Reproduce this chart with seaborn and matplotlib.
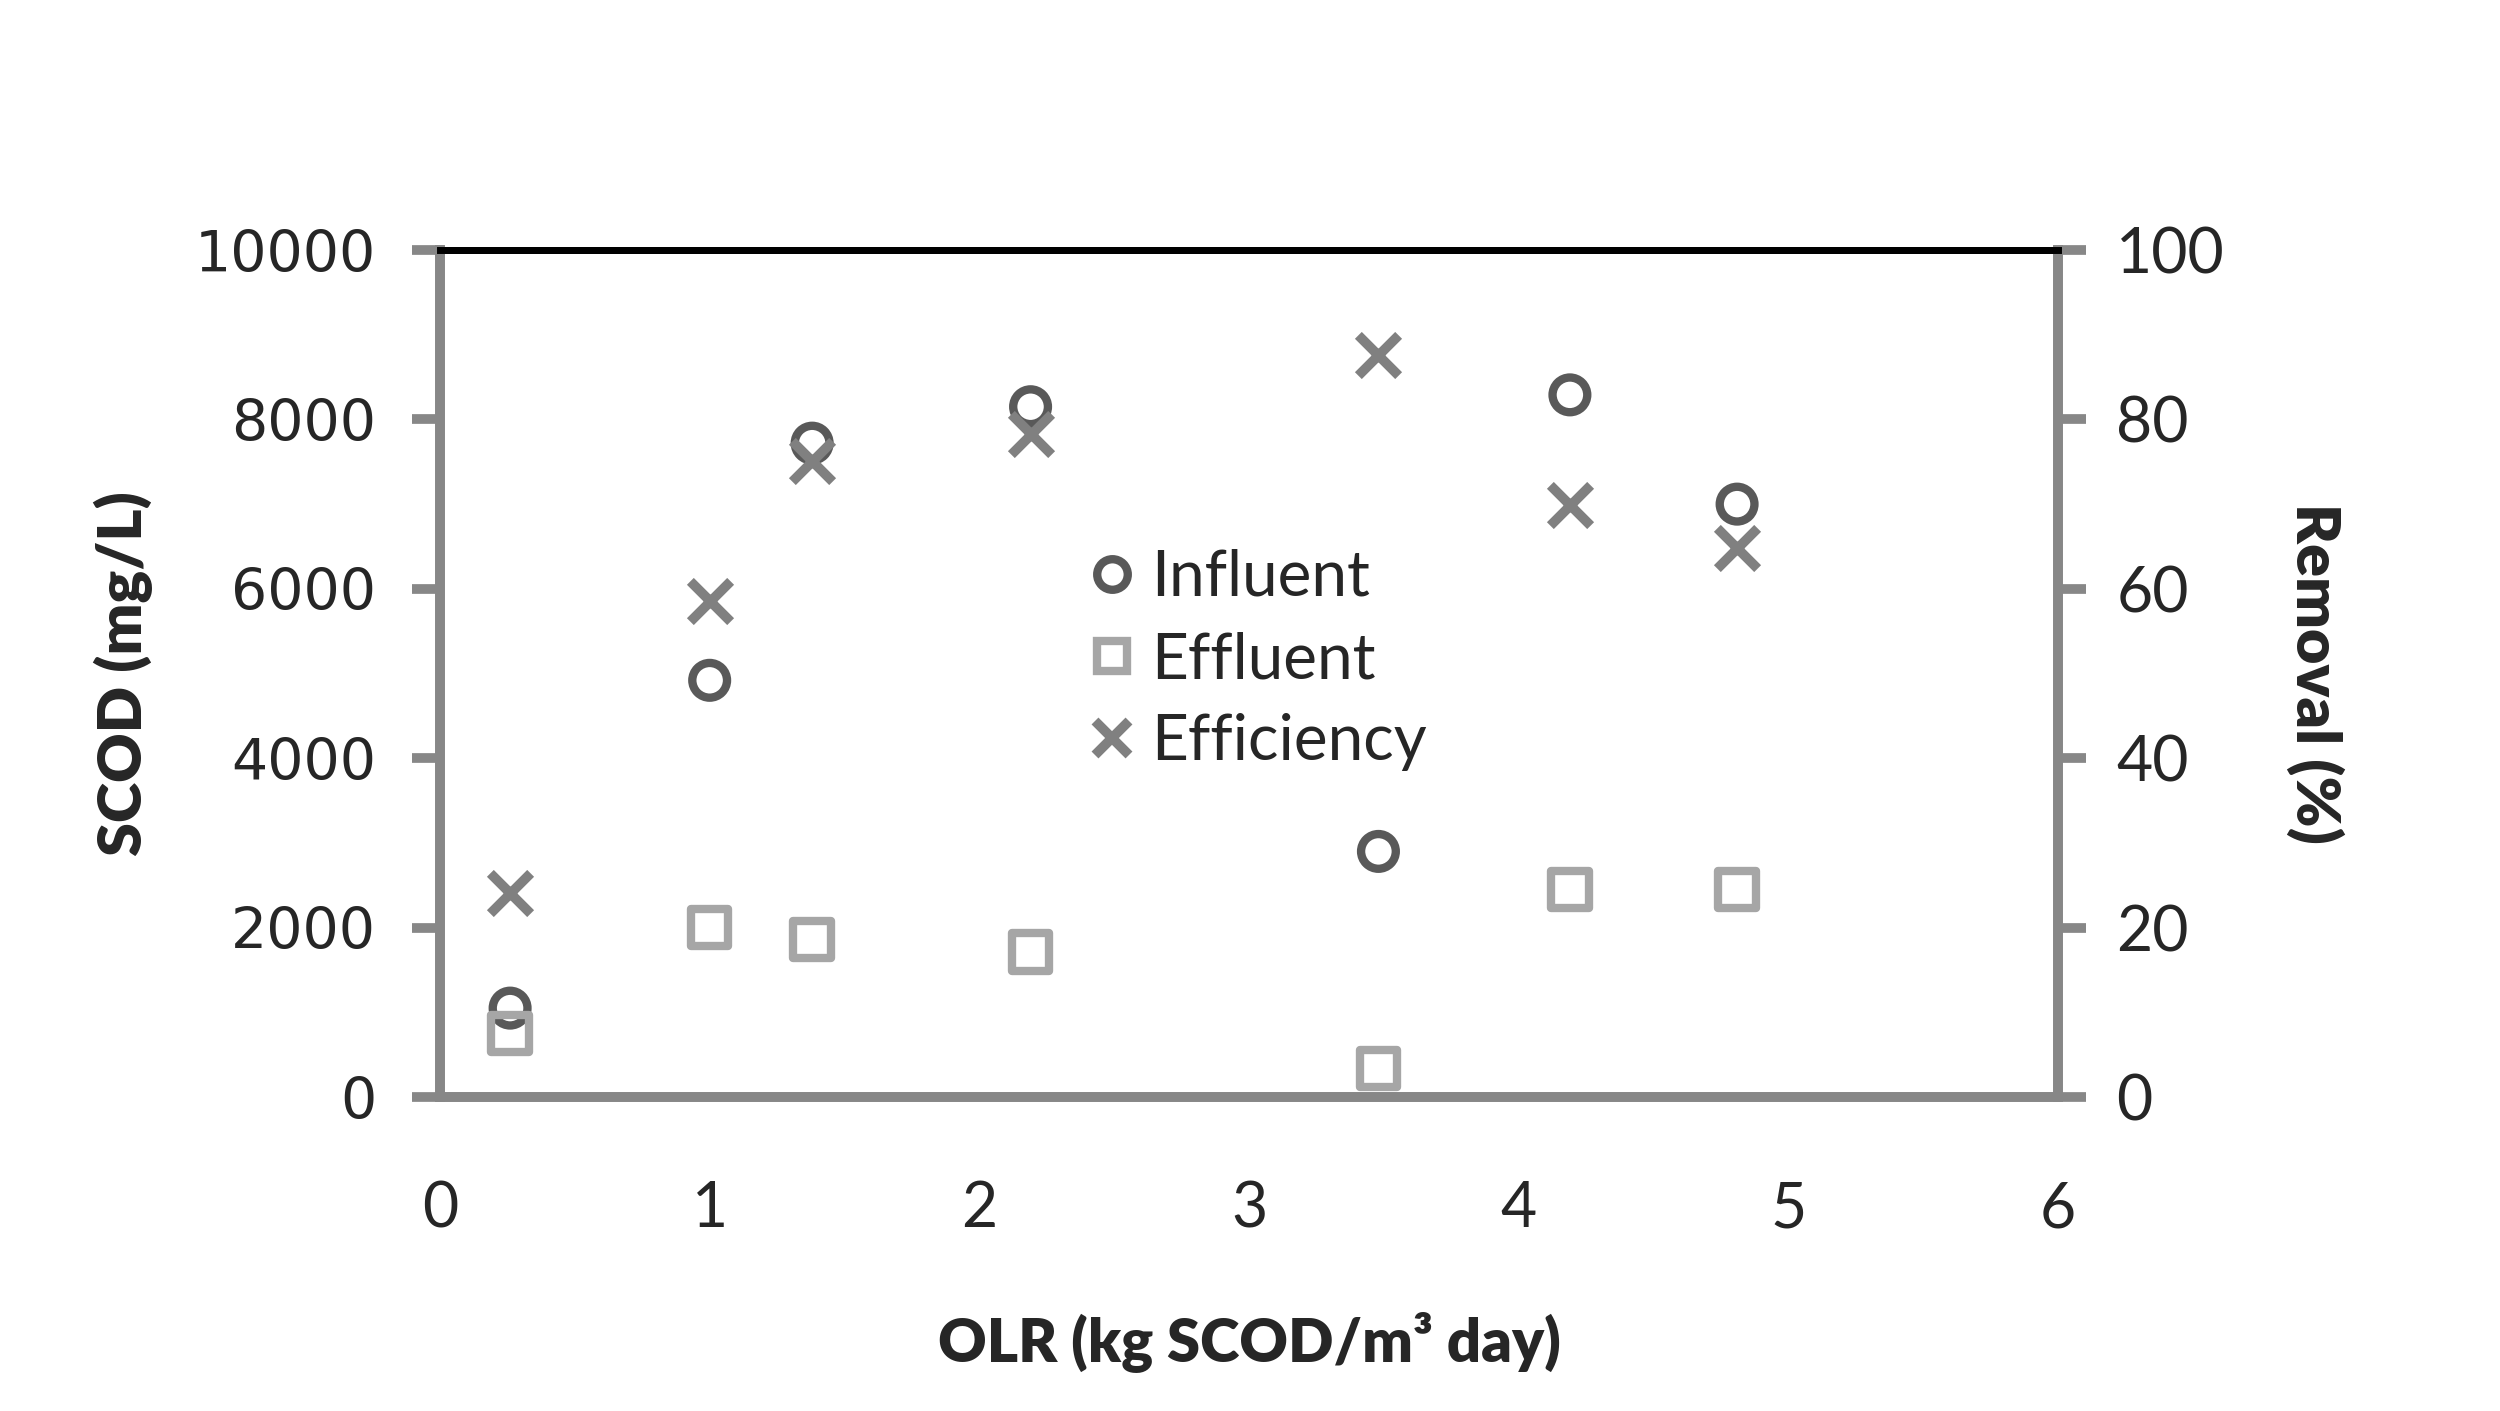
import matplotlib
matplotlib.use("Agg")
import matplotlib.pyplot as plt
import seaborn as sns
import pandas as pd
from matplotlib.lines import Line2D

olr = [0.26, 1.0, 1.38, 2.19, 3.48, 4.19, 4.81]
influent = [1050, 4920, 7720, 8150, 2900, 8290, 7000]
effluent = [750, 2000, 1860, 1710, 340, 2450, 2450]
efficiency = [24.1, 58.6, 75.1, 78.3, 87.6, 69.9, 64.8]

x_ticks = [0, 1, 2, 3, 4, 5, 6]
y_ticks = [0, 2000, 4000, 6000, 8000, 10000]
y2_ticks = [0, 20, 40, 60, 80, 100]

sns.set_style("white")
plt.rcParams['font.family'] = ['Lato', 'DejaVu Sans']

df = pd.DataFrame({"OLR": olr, "Influent": influent, "Effluent": effluent, "Efficiency": efficiency})

fig = plt.figure(figsize=(25, 14.11), dpi=100)
ax = fig.add_axes([0.176, 0.2225, 0.6472, 0.6003])
ax2 = ax.twinx()

c_in, c_ef, c_x = "#595959", "#a6a6a6", "#808080"

sns.scatterplot(data=df, x="OLR", y="Influent", ax=ax, marker="o", s=25**2,
                facecolors="none", edgecolor=c_in, linewidth=6, zorder=3)
sns.scatterplot(data=df, x="OLR", y="Effluent", ax=ax, marker="s", s=27**2,
                facecolors="none", edgecolor=c_ef, linewidth=6, zorder=3)
sns.scatterplot(data=df, x="OLR", y="Efficiency", ax=ax2, marker="x", s=29**2,
                color=c_x, linewidth=7, zorder=3)

ax.set_xlim(0, 6)
ax.set_ylim(0, 10000)
ax2.set_ylim(0, 100)
ax.set_xticks(x_ticks)
ax.set_yticks(y_ticks)
ax2.set_yticks(y2_ticks)

spine_c = "#878787"
for a in (ax, ax2):
    for side in ("left", "right", "bottom"):
        a.spines[side].set_color(spine_c)
        a.spines[side].set_linewidth(7)
    a.spines["top"].set_color("black")
    a.spines["top"].set_linewidth(5)
    a.tick_params(axis="both", length=20, width=7, color=spine_c, direction="out")

ax.tick_params(axis="x", labelsize=45, pad=40)
ax.tick_params(axis="y", labelsize=41, pad=26)
for lbl in ax.get_yticklabels():
    lbl.set_family("DejaVu Sans")
ax2.tick_params(axis="y", labelsize=45, pad=22)

ax.set_xlabel("OLR (kg SCOD/m³ day)", fontsize=43, fontweight="heavy", labelpad=52)
ax.set_ylabel("SCOD (mg/L)", fontsize=44, fontweight="heavy", labelpad=30)
ax2.set_ylabel("Removal (%)", fontsize=44, fontweight="heavy", rotation=270, labelpad=86)

handles = [
    Line2D([], [], marker="o", linestyle="none", markersize=22, markerfacecolor="none",
           markeredgecolor=c_in, markeredgewidth=6),
    Line2D([], [], marker="s", linestyle="none", markersize=22, markerfacecolor="none",
           markeredgecolor=c_ef, markeredgewidth=6),
    Line2D([], [], marker="x", linestyle="none", markersize=24, color=c_x,
           markeredgewidth=7),
]
ax.legend(handles, ["Influent", "Effluent", "Efficiency"], loc="upper left",
          bbox_to_anchor=(0.36, 0.715), frameon=False, fontsize=46,
          handletextpad=0.12, labelspacing=0.38, handlelength=1.0)

fig.savefig("out.png", dpi=100, facecolor="white")
